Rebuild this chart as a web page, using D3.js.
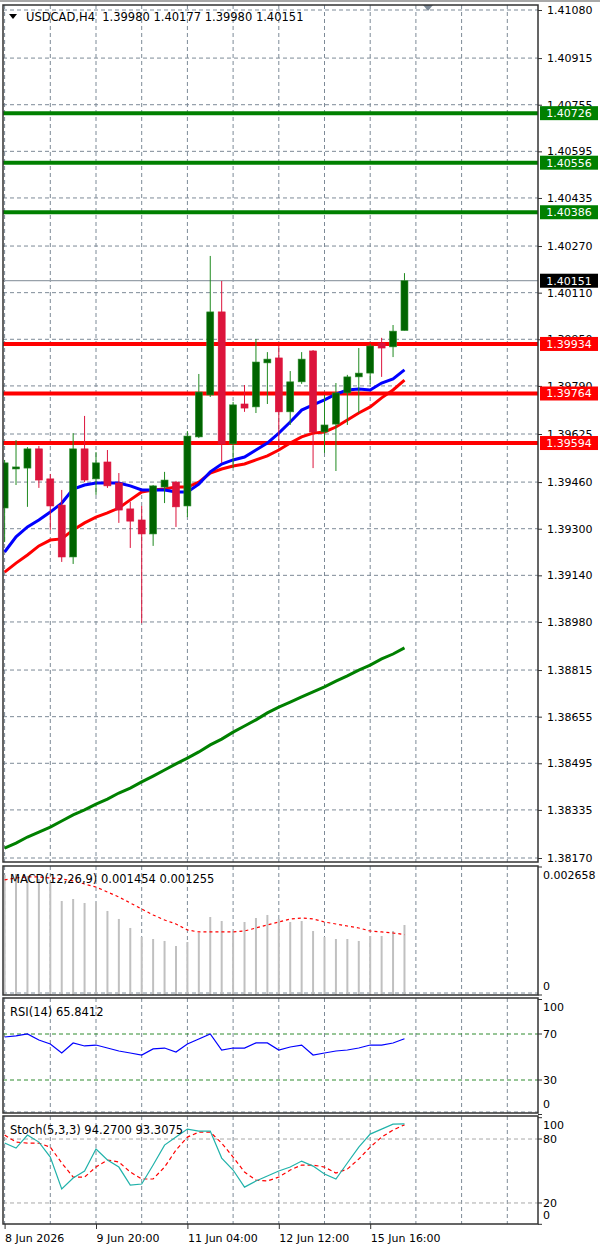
<!DOCTYPE html>
<html>
<head>
<meta charset="utf-8">
<script src="https://cdn.jsdelivr.net/npm/d3@7"></script>
<style>
  body { margin: 0; background: #fff; }
  #canvas text { font-family: "DejaVu Sans", sans-serif; font-size: 11px; fill: #000; }
  #canvas text.title { font-size: 11.5px; white-space: pre; }
</style>
</head>
<body>
<div id="canvas"></div>
<script>
// ---- data ----
const symbol = "USDCAD,H4";

const opens  = [1.39371, 1.39505, 1.39508, 1.39574, 1.39471, 1.39381, 1.39203, 1.39574, 1.39471, 1.39529,
                1.39457, 1.39368, 1.39330, 1.39282, 1.39443, 1.39460, 1.39378, 1.39615, 1.39759, 1.40044,
                1.39591, 1.39728, 1.39718, 1.39869, 1.39886, 1.39701, 1.39804, 1.39910, 1.39632, 1.39659,
                1.39766, 1.39821, 1.39834, 1.39937, 1.39924, 1.39980];
const highs  = [1.39536, 1.39604, 1.39580, 1.39584, 1.39488, 1.39433, 1.39628, 1.39687, 1.39563, 1.39570,
                1.39491, 1.39392, 1.39378, 1.39450, 1.39495, 1.39464, 1.39635, 1.39831, 1.40236, 1.40150,
                1.39735, 1.39793, 1.39951, 1.39906, 1.39927, 1.39841, 1.39906, 1.39913, 1.39759, 1.39800,
                1.39828, 1.39920, 1.39934, 1.39955, 1.39999, 1.40177];
const lows   = [1.39254, 1.39450, 1.39375, 1.39440, 1.39296, 1.39186, 1.39179, 1.39460, 1.39416, 1.39440,
                1.39320, 1.39234, 1.38976, 1.39241, 1.39388, 1.39306, 1.39340, 1.39611, 1.39752, 1.39526,
                1.39508, 1.39701, 1.39697, 1.39728, 1.39580, 1.39656, 1.39797, 1.39508, 1.39560, 1.39498,
                1.39656, 1.39697, 1.39797, 1.39821, 1.39889, 1.39980];
const closes = [1.39526, 1.39512, 1.39574, 1.39467, 1.39378, 1.39203, 1.39574, 1.39467, 1.39526, 1.39447,
                1.39364, 1.39326, 1.39282, 1.39447, 1.39467, 1.39375, 1.39618, 1.39769, 1.40044, 1.39591,
                1.39725, 1.39714, 1.39872, 1.39882, 1.39701, 1.39804, 1.39882, 1.39632, 1.39656, 1.39766,
                1.39821, 1.39834, 1.39927, 1.39920, 1.39978, 1.40151];

// moving averages (blue fast, red slow, green long)
const maFast = [1.39220, 1.39272, 1.39306, 1.39330, 1.39357, 1.39388, 1.39436, 1.39450, 1.39457, 1.39457,
                1.39457, 1.39447, 1.39433, 1.39433, 1.39433, 1.39426, 1.39426, 1.39453, 1.39495, 1.39522,
                1.39536, 1.39546, 1.39570, 1.39594, 1.39628, 1.39666, 1.39707, 1.39725, 1.39742, 1.39762,
                1.39776, 1.39779, 1.39776, 1.39800, 1.39814, 1.39845];
const maSlow = [1.39151, 1.39182, 1.39210, 1.39241, 1.39261, 1.39265, 1.39296, 1.39320, 1.39340, 1.39354,
                1.39371, 1.39399, 1.39426, 1.39433, 1.39436, 1.39443, 1.39443, 1.39460, 1.39491, 1.39505,
                1.39515, 1.39522, 1.39536, 1.39550, 1.39570, 1.39594, 1.39615, 1.39628, 1.39632, 1.39649,
                1.39673, 1.39697, 1.39718, 1.39749, 1.39776, 1.39810];
const maLong = [1.38204, 1.38221, 1.38242, 1.38259, 1.38276, 1.38297, 1.38318, 1.38335, 1.38355, 1.38372,
                1.38393, 1.38410, 1.38431, 1.38451, 1.38472, 1.38493, 1.38513, 1.38534, 1.38558, 1.38578,
                1.38602, 1.38623, 1.38644, 1.38668, 1.38688, 1.38705, 1.38723, 1.38740, 1.38757, 1.38777,
                1.38795, 1.38815, 1.38832, 1.38853, 1.38870, 1.38891];

const macdMain   = [0.002492, 0.002513, 0.002472, 0.002409, 0.002347, 0.001952, 0.001994, 0.001911, 0.001932, 0.001745,
                    0.001579, 0.001392, 0.001205, 0.001163, 0.001122, 0.001018, 0.001101, 0.001288, 0.001620, 0.001537,
                    0.001329, 0.001516, 0.001599, 0.001662, 0.001579, 0.001516, 0.001537, 0.001329, 0.001205, 0.001163,
                    0.001163, 0.001122, 0.001225, 0.001225, 0.001329, 0.001454];
const macdSignal = [0.002389, 0.002430, 0.002451, 0.002451, 0.002430, 0.002409, 0.002368, 0.002305, 0.002243, 0.002139,
                    0.002035, 0.001911, 0.001786, 0.001662, 0.001558, 0.001475, 0.001350, 0.001309, 0.001309, 0.001309,
                    0.001309, 0.001329, 0.001392, 0.001454, 0.001516, 0.001579, 0.001599, 0.001579, 0.001516, 0.001475,
                    0.001433, 0.001392, 0.001329, 0.001309, 0.001288, 0.001255];

const rsi = [67.4, 68.3, 70.0, 64.8, 61.3, 53.5, 62.2, 59.6, 60.4, 57.8,
             55.2, 53.5, 51.7, 57.0, 57.8, 54.3, 61.3, 65.7, 70.0, 56.1,
             57.8, 57.8, 62.2, 62.2, 56.1, 58.7, 60.4, 51.7, 53.5, 55.2,
             56.1, 57.8, 60.4, 60.4, 62.2, 65.8412];

const stochMain   = [76.2, 71.5, 83.7, 77.1, 63.1, 33.1, 43.4, 50.0, 70.6, 60.3,
                     53.7, 36.8, 37.8, 55.6, 74.3, 81.8, 89.3, 87.4, 87.4, 62.1,
                     50.9, 34.9, 40.6, 45.3, 50.0, 53.7, 59.3, 54.6, 47.1, 42.5,
                     57.5, 72.4, 84.6, 89.3, 94.0, 94.2700];
const stochSignal = [83.7, 77.1, 76.2, 76.2, 72.4, 57.5, 44.3, 44.3, 53.7, 60.3,
                     58.4, 49.0, 42.5, 42.5, 53.7, 69.6, 81.8, 86.5, 86.5, 76.2,
                     63.1, 49.0, 41.5, 40.6, 44.3, 50.9, 55.6, 55.6, 53.7, 48.1,
                     51.8, 61.2, 72.4, 81.8, 88.4, 93.3075];

const priceTicks = [1.41080, 1.40915, 1.40755, 1.40595, 1.40435, 1.40270, 1.40110, 1.39950, 1.39790, 1.39625,
                    1.39460, 1.39300, 1.39140, 1.38980, 1.38815, 1.38655, 1.38495, 1.38335, 1.38170];
const greenLevels = [1.40726, 1.40556, 1.40386];
const redLevels = [1.39934, 1.39764, 1.39594];

const macdTicks = [0.002658, 0];
const rsiTicks = [100, 70, 30, 0];
const rsiLevels = [70, 30];
const stochTicks = [100, 80, 20, 0];
const stochLevels = [80, 20];

const timeLabels = ["8 Jun 2026", "9 Jun 20:00", "11 Jun 04:00", "12 Jun 12:00", "15 Jun 16:00"];
const timeLabelBars = [0, 8, 16, 24, 32];

// ---- layout ----
const W = 600, H = 1250;
const plotLeft = 3, plotRight = 538;
const panels = {
  main:  { top: 5,    bottom: 862 },
  macd:  { top: 866,  bottom: 995 },
  rsi:   { top: 998,  bottom: 1113 },
  stoch: { top: 1116, bottom: 1224 }
};

const svg = d3.select("#canvas").append("svg")
  .attr("width", W)
  .attr("height", H);

svg.append("rect").attr("width", W).attr("height", H).attr("fill", "#fff");
svg.append("rect").attr("x", 0).attr("y", 0).attr("width", W).attr("height", 2).attr("fill", "#a8a8a8");

const bars = d3.range(opens.length);
const x = d3.scaleLinear().domain([0, 4]).range([4.6, 50.3]);

const yMain = d3.scaleLinear().domain([1.38170, 1.41080]).range([858, 10]);
const yMacd = d3.scaleLinear().domain([0, 0.002658]).range([995, 867]);
const yRsi = d3.scaleLinear().domain([0, 100]).range([1114.5, 999.5]);
const yStoch = d3.scaleLinear().domain([0, 100]).range([1224.3, 1117.7]);

// clip paths
const defs = svg.append("defs");
Object.entries(panels).forEach(([k, p]) => {
  defs.append("clipPath").attr("id", "clip-" + k)
    .append("rect")
    .attr("x", plotLeft).attr("y", p.top)
    .attr("width", plotRight - plotLeft).attr("height", p.bottom - p.top);
});

const gridColor = "#7d8a97";
const gridDash = "4,3";

// vertical grid in each panel
const gridBars = d3.range(0, 47, 4);
Object.entries(panels).forEach(([k, p]) => {
  svg.append("g").attr("clip-path", `url(#clip-${k})`)
    .selectAll("line").data(gridBars).join("line")
    .attr("x1", d => x(d)).attr("x2", d => x(d))
    .attr("y1", p.top).attr("y2", p.bottom)
    .attr("stroke", gridColor).attr("stroke-dasharray", gridDash);
});

// ---- main panel ----
const main = svg.append("g").attr("clip-path", "url(#clip-main)");

main.selectAll(".hgrid").data(priceTicks).join("line")
  .attr("x1", plotLeft).attr("x2", plotRight)
  .attr("y1", d => yMain(d)).attr("y2", d => yMain(d))
  .attr("stroke", gridColor).attr("stroke-dasharray", gridDash);

// current price line
const lastClose = closes[closes.length - 1];
main.append("line")
  .attr("x1", plotLeft).attr("x2", plotRight)
  .attr("y1", yMain(lastClose)).attr("y2", yMain(lastClose))
  .attr("stroke", "#98a1aa").attr("stroke-width", 1.2);

// level lines
main.selectAll(".glev").data(greenLevels).join("line")
  .attr("x1", plotLeft).attr("x2", plotRight)
  .attr("y1", d => yMain(d)).attr("y2", d => yMain(d))
  .attr("stroke", "#008000").attr("stroke-width", 4);
main.selectAll(".rlev").data(redLevels).join("line")
  .attr("x1", plotLeft).attr("x2", plotRight)
  .attr("y1", d => yMain(d)).attr("y2", d => yMain(d))
  .attr("stroke", "#ff0000").attr("stroke-width", 4);

// moving averages
const maLine = arr => d3.line().x((d, i) => x(i)).y(d => yMain(d))(arr);
main.append("path").attr("d", maLine(maLong)).attr("fill", "none").attr("stroke", "#008000").attr("stroke-width", 3);
main.append("path").attr("d", maLine(maSlow)).attr("fill", "none").attr("stroke", "#ff0000").attr("stroke-width", 3);
main.append("path").attr("d", maLine(maFast)).attr("fill", "none").attr("stroke", "#0000ff").attr("stroke-width", 3);

// candles
const candle = main.selectAll(".candle").data(bars).join("g");
candle.append("line")
  .attr("x1", i => x(i)).attr("x2", i => x(i))
  .attr("y1", i => yMain(highs[i])).attr("y2", i => yMain(lows[i]))
  .attr("stroke", i => closes[i] >= opens[i] ? "#1f8a1f" : "#dc143c");
candle.append("rect")
  .attr("x", i => x(i) - 3.5)
  .attr("width", 7)
  .attr("y", i => yMain(Math.max(opens[i], closes[i])))
  .attr("height", i => Math.max(2, Math.abs(yMain(opens[i]) - yMain(closes[i]))))
  .attr("fill", i => closes[i] >= opens[i] ? "#006400" : "#dc143c")
  .attr("stroke", i => closes[i] >= opens[i] ? "#2f8f2f" : "#dc143c")
  .attr("stroke-width", 0.6);

// price axis
const priceAxis = svg.append("g")
  .attr("transform", `translate(${plotRight},0)`)
  .call(d3.axisRight(yMain).tickValues(priceTicks).tickFormat(d3.format(".5f")).tickSize(4).tickPadding(5));
priceAxis.select(".domain").remove();
priceAxis.selectAll("line").attr("stroke", "#333");
priceAxis.attr("font-family", null).attr("font-size", null);

// level tags (drawn over the axis labels, as in the terminal)
const tag = (val, color) => {
  const g = svg.append("g");
  g.append("rect").attr("x", 540).attr("y", yMain(val) - 7).attr("width", 58).attr("height", 14).attr("fill", color);
  g.append("text").attr("x", 569).attr("y", yMain(val)).attr("dy", "0.35em")
    .attr("text-anchor", "middle").style("fill", "#fff").text(d3.format(".5f")(val));
};
greenLevels.forEach(v => tag(v, "#008000"));
redLevels.forEach(v => tag(v, "#ff0000"));
tag(lastClose, "#000");

// header
svg.append("path").attr("d", "M9,14 L17,14 L13,19 Z").attr("fill", "#000");
svg.append("text").attr("class", "title").attr("x", 26).attr("y", 17).attr("dy", "0.35em")
  .text(`${symbol}  ${[opens, highs, lows, closes].map(a => a[a.length - 1].toFixed(5)).join(" ")}`);
svg.append("path").attr("d", "M423,5 L433,5 L428,11 Z").attr("fill", "#7d8a97");

// ---- MACD ----
const macd = svg.append("g").attr("clip-path", "url(#clip-macd)");
macd.append("line").attr("x1", plotLeft).attr("x2", plotRight)
  .attr("y1", yMacd(0) - 2).attr("y2", yMacd(0) - 2)
  .attr("stroke", gridColor).attr("stroke-dasharray", gridDash);
macd.selectAll(".hist").data(bars).join("line")
  .attr("x1", i => x(i)).attr("x2", i => x(i))
  .attr("y1", yMacd(0)).attr("y2", i => yMacd(macdMain[i]))
  .attr("stroke", "#c0c0c0").attr("stroke-width", 2);
macd.append("path")
  .attr("d", d3.line().x((d, i) => x(i)).y(d => yMacd(d))(macdSignal))
  .attr("fill", "none").attr("stroke", "#ff0000").attr("stroke-width", 1.2).attr("stroke-dasharray", "3,3");
svg.append("text").attr("class", "title").attr("x", 10).attr("y", 879).attr("dy", "0.35em")
  .text(`MACD(12,26,9) ${macdMain[macdMain.length - 1].toFixed(6)} ${macdSignal[macdSignal.length - 1].toFixed(6)}`);

// ---- RSI ----
const rsiG = svg.append("g").attr("clip-path", "url(#clip-rsi)");
rsiG.selectAll(".lev").data(rsiLevels).join("line")
  .attr("x1", plotLeft).attr("x2", plotRight)
  .attr("y1", d => yRsi(d)).attr("y2", d => yRsi(d))
  .attr("stroke", "#2e8b2e").attr("stroke-dasharray", gridDash);
rsiG.append("line").attr("x1", plotLeft).attr("x2", plotRight)
  .attr("y1", panels.rsi.bottom - 1).attr("y2", panels.rsi.bottom - 1)
  .attr("stroke", gridColor).attr("stroke-dasharray", gridDash);
rsiG.append("path")
  .attr("d", d3.line().x((d, i) => x(i)).y(d => yRsi(d))(rsi))
  .attr("fill", "none").attr("stroke", "#0000ff").attr("stroke-width", 1.2);
svg.append("text").attr("class", "title").attr("x", 10).attr("y", 1012).attr("dy", "0.35em")
  .text(`RSI(14) ${rsi[rsi.length - 1].toFixed(4)}`);

// ---- Stochastic ----
const st = svg.append("g").attr("clip-path", "url(#clip-stoch)");
st.selectAll(".lev").data(stochLevels).join("line")
  .attr("x1", plotLeft).attr("x2", plotRight)
  .attr("y1", d => yStoch(d)).attr("y2", d => yStoch(d))
  .attr("stroke", "#a9a9a9").attr("stroke-dasharray", gridDash);
st.append("path")
  .attr("d", d3.line().x((d, i) => x(i)).y(d => yStoch(d))(stochSignal))
  .attr("fill", "none").attr("stroke", "#ff0000").attr("stroke-width", 1.2).attr("stroke-dasharray", "4,3");
st.append("path")
  .attr("d", d3.line().x((d, i) => x(i)).y(d => yStoch(d))(stochMain))
  .attr("fill", "none").attr("stroke", "#20b2aa").attr("stroke-width", 1.2);
svg.append("text").attr("class", "title").attr("x", 10).attr("y", 1130).attr("dy", "0.35em")
  .text(`Stoch(5,3,3) ${stochMain[stochMain.length - 1].toFixed(4)} ${stochSignal[stochSignal.length - 1].toFixed(4)}`);

// sub panel scale labels (clamped inside panel like the terminal does)
const subLabels = (ticks, scale, p, fmt) => {
  ticks.forEach(t => {
    const yy = Math.max(p.top + 9, Math.min(p.bottom - 9, scale(t)));
    svg.append("line").attr("x1", plotRight).attr("x2", plotRight + 4)
      .attr("y1", scale(t)).attr("y2", scale(t)).attr("stroke", "#333");
    svg.append("text").attr("x", 543).attr("y", yy).attr("dy", "0.35em").text(fmt(t));
  });
};
subLabels(macdTicks, yMacd, panels.macd, d => d === 0 ? "0" : d.toFixed(6));
subLabels(rsiTicks, yRsi, panels.rsi, d => d);
subLabels(stochTicks, yStoch, panels.stoch, d => d);

// panel borders
Object.values(panels).forEach(p => {
  svg.append("rect")
    .attr("x", plotLeft).attr("y", p.top)
    .attr("width", plotRight - plotLeft).attr("height", p.bottom - p.top)
    .attr("fill", "none").attr("stroke", "#333").attr("stroke-width", 1.5);
});

// time axis
const timeAxis = svg.append("g")
  .attr("transform", `translate(0,${panels.stoch.bottom})`)
  .call(d3.axisBottom(x).tickValues(timeLabelBars).tickFormat((d, i) => timeLabels[i]).tickSize(5).tickPadding(3));
timeAxis.select(".domain").remove();
timeAxis.selectAll("line").attr("stroke", "#333");
timeAxis.selectAll("text").attr("text-anchor", "start").attr("x", 0).attr("y", 18).attr("dy", "0");
timeAxis.attr("font-family", null).attr("font-size", null);
</script>
</body>
</html>
